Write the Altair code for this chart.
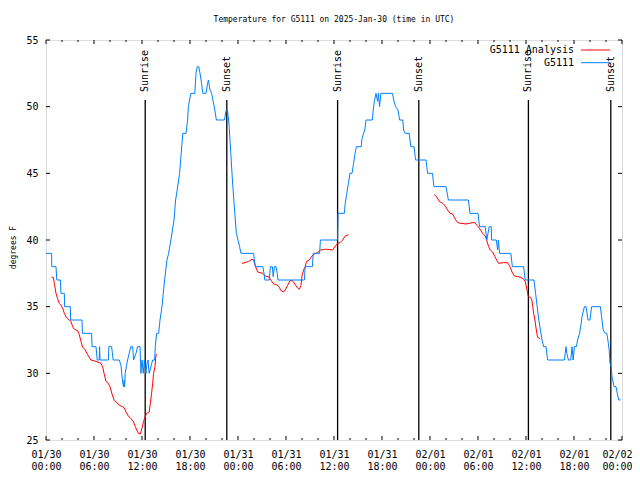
import altair as alt
import pandas as pd

# ---- data (hours since 2025-01-30 00:00 UTC, degrees F) ----
blue_t = [0.0, 0.7, 0.72, 1.25, 1.35, 1.8, 1.87, 2.29, 2.33, 3.04, 3.08, 4.5, 4.55, 5.7, 5.75, 6.25, 6.4, 6.65,
          6.7, 6.75, 7.8, 7.85, 8.2, 8.4, 9.16, 9.37, 9.58, 9.7, 9.77, 9.83, 9.9, 10.07, 10.2, 10.4, 10.6, 10.83,
          10.95, 11.25, 11.45, 11.75, 11.87, 12.0, 12.16, 12.29, 12.5, 12.58, 12.75, 12.9, 13.16, 13.33, 13.58,
          13.66, 13.83, 14.08, 14.25, 14.5, 14.66, 14.83, 15.12, 15.33, 15.54, 15.62, 15.8, 16.0, 16.2, 16.4,
          16.7, 16.9, 17.1, 17.5, 17.7, 17.8, 18.1, 18.6, 18.75, 18.9, 19.1, 19.25, 19.45, 19.6, 20.0, 20.2,
          20.3, 20.5, 20.7, 20.9, 21.1, 21.3, 22.3, 22.5, 22.7, 22.9, 23.1, 23.3, 23.6, 23.8, 24.0, 24.2,
          24.37, 25.95, 26.15, 27.1, 27.25, 27.35, 27.9, 28.05, 28.3, 28.4, 28.5, 28.55, 28.75, 28.9, 29.0,
          32.3, 32.4, 33.3, 33.4, 34.2, 34.3, 36.45, 36.5, 37.3, 37.4, 37.6, 37.8, 38.0, 38.25, 38.45, 38.6,
          38.8, 39.4, 39.5, 39.7, 39.85, 40.0, 40.8, 40.9, 41.05, 41.25, 41.45, 41.55, 41.7, 41.85, 43.3, 43.5,
          43.7, 44.0, 44.2, 44.6, 44.7, 44.9, 45.4, 45.5, 45.6, 46.0, 46.2, 47.5, 47.7, 48.3, 48.5, 50.0, 50.3,
          52.8, 53.0, 54.0, 54.2, 54.9, 55.1, 55.25, 55.4, 55.65, 55.7, 56.3, 56.45, 56.55, 56.7, 58.1, 58.3,
          59.7, 59.9, 61.0, 61.2, 61.4, 61.6, 61.8, 62.0, 62.2, 62.5, 62.7, 64.8, 64.9, 65.0, 65.1, 65.3, 65.6,
          65.75, 65.9, 66.05, 66.3, 66.45, 66.7, 66.9, 67.0, 67.3, 67.5, 67.75, 68.0, 68.2, 69.3, 69.45, 69.65,
          69.9, 70.1, 70.3, 70.4, 70.5, 70.65, 70.75, 71.0, 71.25, 71.4, 71.6, 71.8]
blue_v = [39, 39, 38, 38, 37, 37, 36, 36, 35, 35, 34, 34, 33, 33, 32, 32, 31, 31,
          32, 31, 31, 32, 32, 31, 31, 30.6, 29.3, 29, 29.5, 29, 30, 30.6, 31, 31.5, 32, 32,
          31, 31.5, 32, 32, 30, 31, 30, 31, 30, 30.6, 31, 30, 30.6, 31, 31,
          32, 33, 33, 34, 35, 36, 37, 38.5, 39, 39.75, 40, 40.75, 41.5, 43, 43.75,
          45, 46.5, 48, 48, 49, 50, 51, 51, 52.5, 53, 53, 52.5, 51.75, 51, 51, 51.75,
          52, 51.25, 51, 50.4, 49.75, 49, 49, 49.7, 49.7, 48.5, 46.5, 44.5, 42, 40.5, 40, 39.5,
          39, 39, 38, 38, 37.5, 37, 37, 38, 38, 37.25, 37.75, 38, 38, 37.5, 37,
          37, 38, 38, 39, 39, 40, 40, 42, 42, 42.75, 43.5, 44.25, 45, 45, 45.75, 46.4,
          47, 47, 47.6, 48, 48.25, 49, 49, 49.75, 50.4, 51, 50.4, 51, 50, 51, 51, 50.4,
          50, 49.75, 49, 49, 48.25, 48, 48, 47.5, 47, 47, 46, 46, 45, 45, 44, 44, 43,
          43, 42, 42, 41, 41, 40, 40.5, 41, 41, 40, 40, 39.25, 40, 39, 39, 38,
          38, 37, 37, 36, 35, 34, 33.25, 32.5, 32, 32, 31, 31, 31.5, 32, 31.5, 31, 31,
          32, 31, 32, 32, 32.5, 33, 33.75, 34.25, 35, 35, 34, 34, 35, 35, 34.25, 33.25,
          33, 33, 32.25, 31.75, 30.75, 30.5, 29.75, 29, 29, 28.5, 28, 28]

red_t = [0.7, 0.91, 1.04, 1.25, 1.45, 1.66, 1.87, 2.08, 2.29, 2.5, 2.7, 3.12, 3.33, 3.54, 3.95, 4.16, 4.37,
         4.58, 4.87, 5.2, 5.62, 6.25, 6.87, 7.08, 7.29, 7.5, 7.79, 8.0, 8.25, 8.54, 8.87, 9.16, 9.58, 9.79,
         10.0, 10.29, 10.62, 10.91, 11.16, 11.54, 11.79, 12.0, 12.2, 12.41, 12.58, 12.91, 13.04, 13.2, 13.33,
         13.45, 13.62, 13.75, 13.87,
         24.5, 24.9, 25.33, 25.75, 25.95, 26.2, 26.46, 26.75, 27.08, 27.4, 27.8, 28.1, 28.46, 28.83, 29.16,
         29.37, 29.7, 29.9, 30.2, 30.5, 30.83, 31.1, 31.45, 31.66, 31.87, 32.0, 32.2, 32.4, 32.58, 32.91,
         33.25, 33.54, 33.95, 34.29, 34.8, 35.2, 35.83, 36.25, 36.45, 36.75, 37.08, 37.4, 37.8,
         48.54, 48.83, 49.16, 49.58, 49.87, 50.2, 50.5, 50.83, 51.12, 51.45, 51.87, 52.5, 52.9, 53.33, 53.62,
         53.87, 54.16, 54.58, 54.9, 55.08, 55.33, 55.54, 55.83, 56.12, 56.33, 56.58, 57.2, 57.7, 58.0, 58.25,
         58.54, 58.95, 59.37, 59.7, 59.9, 60.08, 60.29, 60.5, 60.7, 60.83, 60.95, 61.12, 61.25, 61.45, 61.75]
red_v = [37.2, 37.2, 36.75, 36, 35.6, 35.25, 35.1, 34.9, 34.5, 34.25, 34.1, 33.9, 33.5, 33.3, 33.2, 32.9, 32.4,
         31.95, 31.8, 31.4, 31, 30.9, 30.75, 30.5, 29.9, 29.4, 29.25, 29, 28.45, 27.95, 27.8, 27.6, 27.5, 27.4,
         27.1, 26.8, 26.6, 26.4, 26, 25.5, 25.45, 25.9, 26.4, 26.75, 27, 27.1, 27.75, 28.5, 29.25,
         30, 30.5, 31.4, 31.45,
         38.25, 38.3, 38.4, 38.55, 38.5, 38, 37.6, 37.55, 37.5, 37.3, 37.25, 37, 36.7, 36.65, 36.45,
         36.2, 36.1, 36.25, 36.6, 36.95, 36.95, 36.7, 36.4, 36.3, 36.6, 37.3, 37.75, 38, 38.4, 38.5,
         38.8, 38.95, 39.05, 39.25, 39.3, 39.3, 39.25, 39.6, 39.75, 39.8, 40, 40.3, 40.4,
         43.4, 43.25, 42.9, 42.75, 42.6, 42.25, 42, 41.95, 41.6, 41.3, 41.25, 41.2, 41.25, 41.3, 41.3,
         41.1, 40.9, 40.5, 40.3, 40, 39.5, 39.25, 39.1, 38.75, 38.5, 38.25, 38.3, 38.3, 38, 37.6,
         37.3, 37.25, 37.2, 37.05, 36.9, 36.4, 35.75, 35.7, 35.6, 35.1, 34.5, 34, 33.4, 32.7, 32.6]
# analysis runs are separated by gaps (no analysis between runs)
red_seg = [1 if t < 20 else (2 if t < 44 else 3) for t in red_t]

sun_t = [12.4, 22.6, 36.45, 46.6, 60.3, 70.6]
sun_label = ["Sunrise", "Sunset", "Sunrise", "Sunset", "Sunrise", "Sunset"]

x_major = list(range(0, 73, 6))
x_minor = [h for h in range(0, 73, 2) if h % 6]
y_major = [25, 30, 35, 40, 45, 50, 55]
day_labels = ["01/30", "01/31", "02/01", "02/02"]

title_text = "Temperature for G5111 on 2025-Jan-30 (time in UTC)"
legend_names = ["G5111 Analysis", "G5111"]
RED = "#ff0000"
BLUE = "#0080ff"
MONO = "DejaVu Sans Mono"
W, H = 576, 400

# ---- frames ----
blue_df = pd.DataFrame({"t": blue_t, "v": blue_v})
red_df = pd.DataFrame({"t": red_t, "v": red_v, "seg": red_seg})
sun_df = pd.DataFrame({"t": sun_t, "label": sun_label})
xmaj_df = pd.DataFrame({"t": x_major})
xmin_df = pd.DataFrame({"t": x_minor})
ymaj_df = pd.DataFrame({"v": y_major})

day_js = "[" + ",".join("'%s'" % d for d in day_labels) + "]"
label_expr = "[" + day_js + "[floor(datum.value/24)], format(datum.value % 24, '02d') + ':00']"
last_test = "datum.value >= %d" % x_major[-1]

xscale = alt.Scale(domain=[0, 72], nice=False, zero=False)
yscale = alt.Scale(domain=[25, 55], nice=False, zero=False)
xaxis = alt.Axis(values=x_major, labelExpr=label_expr, ticks=False, domain=False, grid=False,
                 labelFont=MONO, labelFontSize=10, labelColor="black", labelPadding=9,
                 labelBaseline="top", labelLineHeight=12, title=None, labelFlush=False,
                 labelOverlap=False,
                 labelAlign={"condition": {"test": last_test, "value": "right"}, "value": "center"},
                 labelOffset={"condition": {"test": last_test, "value": 10}, "value": 0})
yaxis = alt.Axis(values=y_major, ticks=False, domain=False, grid=False, labelFont=MONO,
                 labelFontSize=10, labelColor="black", labelPadding=8, title="degrees F",
                 titleFont=MONO, titleFontSize=8, titleFontWeight="normal", titleColor="black",
                 titleAngle=270, titleX=-33, titleY=207, titleAlign="center", titleBaseline="middle")

X = alt.X("t:Q", scale=xscale, axis=xaxis)
Y = alt.Y("v:Q", scale=yscale, axis=yaxis)

layers = []
# inward ticks
for df, ln in ((xmaj_df, 4), (xmin_df, 2)):
    layers.append(alt.Chart(df).mark_rule(color="black", strokeWidth=1).encode(
        x=X, y=alt.value(H), y2=alt.value(H - ln)))
    layers.append(alt.Chart(df).mark_rule(color="black", strokeWidth=1).encode(
        x=X, y=alt.value(0), y2=alt.value(ln)))
layers.append(alt.Chart(ymaj_df).mark_rule(color="black", strokeWidth=1).encode(
    y=Y, x=alt.value(0), x2=alt.value(4)))
layers.append(alt.Chart(ymaj_df).mark_rule(color="black", strokeWidth=1).encode(
    y=Y, x=alt.value(W), x2=alt.value(W - 4)))

# sunrise / sunset
layers.append(alt.Chart(sun_df).mark_rule(color="black", strokeWidth=1.3).encode(
    x=X, y=alt.datum(50.5), y2=alt.datum(25)))
layers.append(alt.Chart(sun_df).mark_text(angle=270, align="left", baseline="middle", font=MONO,
                                          fontSize=10, color="black").encode(
    x=X, y=alt.datum(51.1), text="label:N"))

# data lines
layers.append(alt.Chart(red_df).mark_line(color=RED, strokeWidth=1).encode(
    x=X, y=Y, detail="seg:N", order="t:Q"))
layers.append(alt.Chart(blue_df).mark_line(color=BLUE, strokeWidth=1).encode(
    x=X, y=Y, order="t:Q"))

# key
for i, (name, col) in enumerate(zip(legend_names, [RED, BLUE])):
    ky = 10 + i * 12.7
    kdf = pd.DataFrame({"name": [name]})
    layers.append(alt.Chart(kdf).mark_text(align="right", baseline="middle", font=MONO, fontSize=10,
                                           color="black").encode(
        x=alt.value(528), y=alt.value(ky), text="name:N"))
    layers.append(alt.Chart(kdf).mark_rule(color=col, strokeWidth=1).encode(
        x=alt.value(535), x2=alt.value(564), y=alt.value(ky)))

chart = alt.layer(*layers).properties(
    width=W, height=H,
    autosize=alt.AutoSizeParams(type="none"),
    padding={"left": 38, "top": 32, "right": 10, "bottom": 40},
    title=alt.TitleParams(title_text, font=MONO, fontSize=8, fontWeight="normal", color="black",
                          anchor="middle", offset=11),
).configure_view(stroke="black", strokeWidth=1).configure(background="white")

chart.save("out.html", embed_options={"renderer": "svg", "actions": False})
